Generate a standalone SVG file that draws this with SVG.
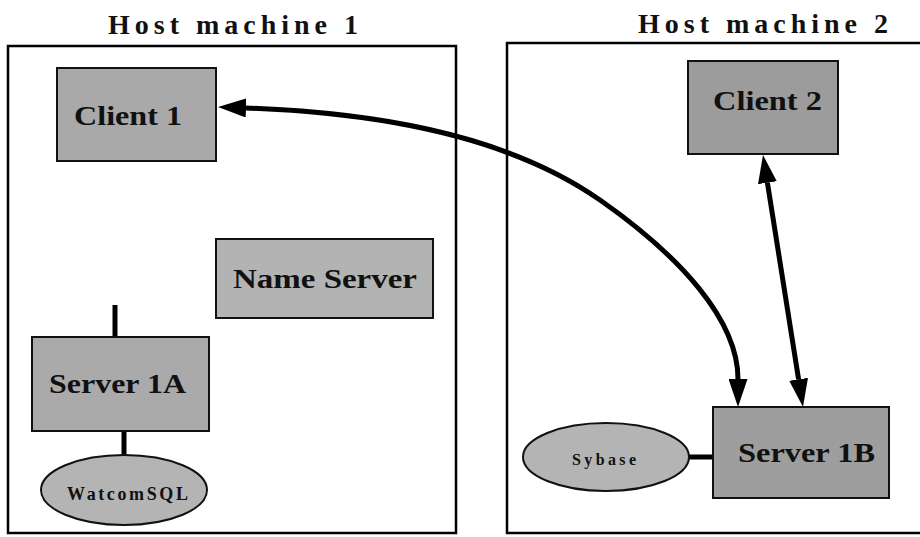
<svg xmlns="http://www.w3.org/2000/svg" width="920" height="537" viewBox="0 0 920 537" font-family="Liberation Serif, Times New Roman, serif" font-weight="bold">
<style>
.host{fill:none;stroke:#000;stroke-width:2.5}
text{fill:#111}
.title{font-size:28px}
.lbl{font-size:27px}
.box{stroke:#111;stroke-width:2}
.conn{fill:none;stroke:#000;stroke-width:5}
</style>
<defs>
<marker id="ah" viewBox="0 0 10 10" refX="0" refY="5" markerWidth="5.6" markerHeight="3.8" markerUnits="strokeWidth" orient="auto-start-reverse" preserveAspectRatio="none">
<path d="M0,0 L10,5 L0,10 Z" fill="#000"/>
</marker>
</defs>
<rect width="920" height="537" fill="#fff"/>
<g id="host1">
<rect class="host" x="8" y="46" width="448" height="487"/>
<text class="title" x="108" y="34" textLength="250" lengthAdjust="spacing">Host machine 1</text>
</g>
<g id="host2">
<rect class="host" x="507" y="43" width="430" height="490"/>
<text class="title" x="638" y="33" textLength="250" lengthAdjust="spacing">Host machine 2</text>
</g>
<g id="connectors">
<line class="conn" x1="115" y1="305" x2="115" y2="337"/>
<line class="conn" x1="124" y1="431" x2="124" y2="457"/>
<line class="conn" x1="689" y1="457" x2="713" y2="457"/>
<path class="conn" d="M246,108 C360,112 500,130 600,200 C680,256 738,320 738,379" marker-start="url(#ah)" marker-end="url(#ah)"/>
<line class="conn" x1="767.4" y1="182.7" x2="798.6" y2="379.3" marker-start="url(#ah)" marker-end="url(#ah)"/>
</g>
<g id="client1">
<rect class="box" x="57" y="68" width="159" height="93" fill="#a9a9a9"/>
<text class="lbl" x="74" y="125" textLength="108" lengthAdjust="spacingAndGlyphs">Client 1</text>
</g>
<g id="client2">
<rect class="box" x="688" y="61" width="150" height="93" fill="#9c9c9c"/>
<text class="lbl" x="713" y="110" textLength="109" lengthAdjust="spacingAndGlyphs">Client 2</text>
</g>
<g id="nameserver">
<rect class="box" x="216" y="239" width="217" height="79" fill="#b3b3b3"/>
<text class="lbl" x="233" y="288" textLength="184" lengthAdjust="spacingAndGlyphs">Name Server</text>
</g>
<g id="server1a">
<rect class="box" x="32" y="337" width="177" height="94" fill="#aaaaaa"/>
<text class="lbl" x="49" y="393" textLength="137" lengthAdjust="spacingAndGlyphs">Server 1A</text>
</g>
<g id="watcomsql">
<ellipse class="box" cx="124" cy="490" rx="83" ry="35" fill="#b4b4b4"/>
<text x="67" y="500" font-size="18" textLength="121" lengthAdjust="spacing">WatcomSQL</text>
</g>
<g id="server1b">
<rect class="box" x="713" y="407" width="176" height="91" fill="#9e9e9e"/>
<text class="lbl" x="738" y="462" textLength="137" lengthAdjust="spacingAndGlyphs">Server 1B</text>
</g>
<g id="sybase">
<ellipse class="box" cx="606" cy="457" rx="83" ry="34" fill="#b4b4b4"/>
<text x="572" y="465" font-size="16" textLength="64" lengthAdjust="spacing">Sybase</text>
</g>
</svg>
